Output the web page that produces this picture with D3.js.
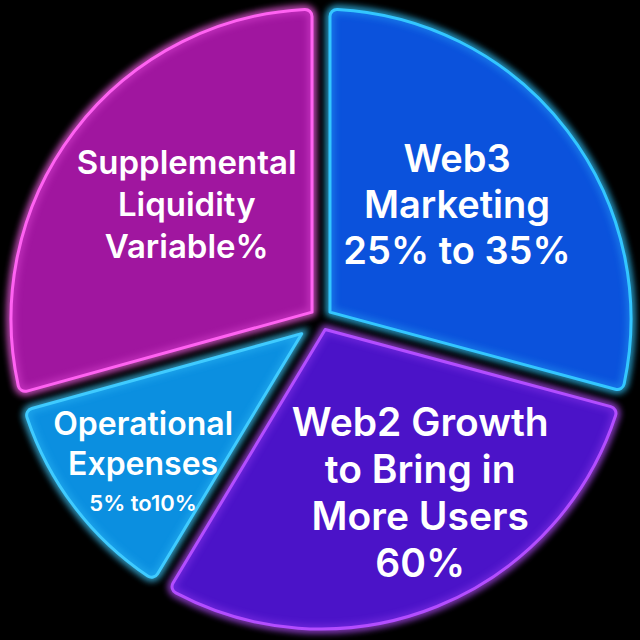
<!DOCTYPE html>
<html>
<head>
<meta charset="utf-8">
<script src="https://cdn.jsdelivr.net/npm/d3@7"></script>
<style>
  html, body { margin: 0; padding: 0; background: #000; }
  svg { display: block; }
</style>
</head>
<body>
<div id="chart"></div>
<script>
// data (slice shares in %, clockwise from 12 o'clock)
var categories = ["Web3 Marketing", "Web2 Growth", "Operational Expenses", "Supplemental Liquidity"];
var sliceValues = [29.2, 29.4, 12.1, 29.3];
var labelLines = [
  ["Web3", "Marketing", "25% to 35%"],
  ["Web2 Growth", "to Bring in", "More Users", "60%"],
  ["Operational", "Expenses", "5% to10%"],
  ["Supplemental", "Liquidity", "Variable%"]
];

// styles
var fillColors = ["#0b52dc", "#4b13c8", "#0b8fe0", "#a0169f"];
var edgeColors = ["#33c6ff", "#b34dff", "#3fcbff", "#ff62f2"];
var labelRadius = [0.573, 0.645, 0.739, 0.57];
var labelTurn = [-2.6, -7.8, -1.8, 3.3];   // degrees off the slice bisector
var fontSizes = [[38, 38, 38], [39, 39, 39, 39], [32, 32, 22], [33, 33, 33]];
var lineGap = [46, 47, 40, 42];

function drawChart() {
  var svgWidth = 640, svgHeight = 640;
  var cx = 321, cy = 319, radius = 310;
  var gap = 18;

  var svg = d3.select("#chart")
    .append("svg")
    .attr("width", svgWidth)
    .attr("height", svgHeight);

  svg.append("rect")
    .attr("width", svgWidth)
    .attr("height", svgHeight)
    .attr("fill", "#000");

  // glow filter for the neon edges
  var defs = svg.append("defs");
  var glow = defs.append("filter")
    .attr("id", "glow")
    .attr("x", "-20%").attr("y", "-20%")
    .attr("width", "140%").attr("height", "140%");
  glow.append("feGaussianBlur").attr("stdDeviation", 3.5);

  var pie = d3.pie().sort(null).value(d => d);
  var slices = pie(sliceValues);

  var padAngle = gap / radius;
  var half = radius * Math.sin(padAngle / 2);

  // inner radius per slice puts the tip where the two parallel gap edges meet
  var arc = d3.arc()
    .innerRadius(d => 0.999 * half / Math.sin((d.endAngle - d.startAngle) / 2))
    .outerRadius(radius)
    .padAngle(padAngle)
    .padRadius(radius)
    .cornerRadius(7);

  var chart = svg.append("g")
    .attr("transform", `translate(${cx}, ${cy})`);

  // blurred halo
  chart.selectAll("path.halo")
    .data(slices)
    .enter()
    .append("path")
    .attr("class", "halo")
    .attr("d", arc)
    .attr("fill", "none")
    .attr("stroke", (d, i) => edgeColors[i])
    .attr("stroke-width", 6)
    .attr("opacity", 0.8)
    .attr("filter", "url(#glow)");

  // slice bodies
  chart.selectAll("path.slice")
    .data(slices)
    .enter()
    .append("path")
    .attr("class", "slice")
    .attr("d", arc)
    .attr("fill", (d, i) => fillColors[i]);

  // inner glow along edges
  chart.selectAll("path.inner")
    .data(slices)
    .enter()
    .append("path")
    .attr("class", "inner")
    .attr("d", arc)
    .attr("fill", "none")
    .attr("stroke", (d, i) => edgeColors[i])
    .attr("stroke-width", 8)
    .attr("opacity", 0.35)
    .attr("filter", "url(#glow)");

  // crisp edges
  chart.selectAll("path.edge")
    .data(slices)
    .enter()
    .append("path")
    .attr("class", "edge")
    .attr("d", arc)
    .attr("fill", "none")
    .attr("stroke", (d, i) => edgeColors[i])
    .attr("stroke-width", 3)
    .attr("stroke-linejoin", "round");

  // labels
  slices.forEach(function(d, i) {
    var mid = (d.startAngle + d.endAngle) / 2 + labelTurn[i] * Math.PI / 180;
    var r = radius * labelRadius[i];
    var x = Math.sin(mid) * r;
    var y = -Math.cos(mid) * r;
    var lines = labelLines[i];
    var total = (lines.length - 1) * lineGap[i];
    var text = chart.append("text")
      .attr("text-anchor", "middle")
      .attr("font-family", "Inter, 'Open Sans', sans-serif")
      .attr("font-weight", 600)
      .attr("fill", "#ffffff");
    lines.forEach(function(line, j) {
      text.append("tspan")
        .attr("x", x)
        .attr("y", y - total / 2 + j * lineGap[i])
        .attr("dy", "0.35em")
        .attr("font-size", fontSizes[i][j] + "px")
        .text(line);
    });
  });
}

drawChart();
</script>
</body>
</html>
